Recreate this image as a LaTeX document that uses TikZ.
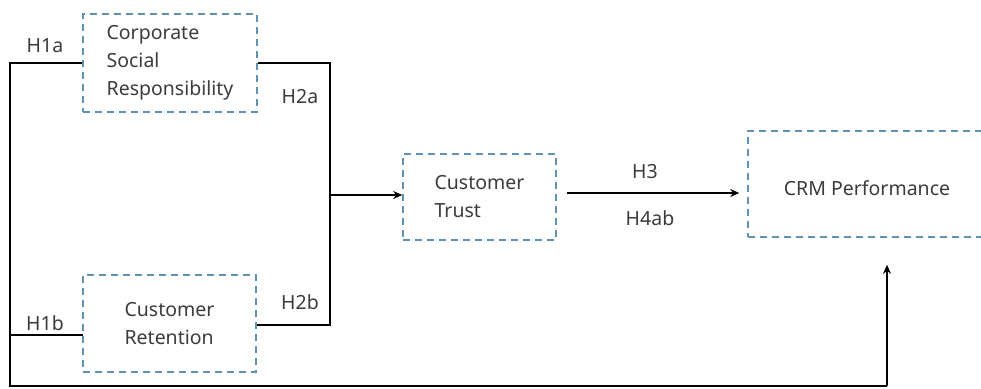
\documentclass[tikz,border=0pt]{standalone}
\usepackage{fontspec}
\setmainfont{Noto Sans}
\usetikzlibrary{arrows.meta}
\definecolor{boxblue}{RGB}{95,145,180}
\definecolor{txt}{RGB}{60,60,60}
\tikzset{
  dbox/.style={draw=boxblue, line width=1.6pt, dash pattern=on 7pt off 5pt, rectangle, align=left, text=txt, font=\fontsize{19.5}{28}\selectfont, inner sep=0pt},
  conn/.style={draw=black, line width=1.8pt},
  arr/.style={conn, -{Stealth[length=9pt,width=8pt]}},
  lab/.style={text=txt, font=\fontsize{19.5}{22}\selectfont, inner sep=0pt}
}
\begin{document}
\begin{tikzpicture}[x=1pt,y=-1pt]
\clip (0,0) rectangle (981,388);
\fill[white] (0,0) rectangle (981,388);
\node[dbox, minimum width=174pt, minimum height=98pt] (CSR) at (170,63) {Corporate\\Social\\Responsibility};
\node[dbox, minimum width=173pt, minimum height=97pt] (CR) at (169.5,323.5) {Customer\\Retention};
\node[dbox, minimum width=153pt, minimum height=86pt] (CT) at (479.5,197) {Customer\\Trust};
\node[dbox, minimum width=250pt, minimum height=106pt] (CRM) at (873,184) {};
\node[text=txt, font=\fontsize{19.5}{22}\selectfont] (CRMt) at (867,188) {CRM Performance};
\coordinate (BL) at (10,386);
\coordinate (BR) at (887,386);
\coordinate (J) at (330,325);
\coordinate (L2) at (83,335);
\draw[conn] (CSR.west) -| (BL) -- (BR);
\draw[conn] (L2) -- (L2 -| BL);
\draw[arr, shorten >=27pt] (BR) -- (BR |- CRM.south);
\draw[conn] (CSR.east) -| (J) -- (CR.east |- J);
\draw[arr] (J |- CT.west) ++(0,-2) coordinate (JT) -- (JT -| CT.west);
\draw[arr, shorten <=10pt, shorten >=8pt] (CT.east |- 0,193) coordinate (TE) -- (TE -| CRM.west);
\node[lab] (h1a) at (45,46) {H1a};
\node[lab] (h2a) at (300,97) {H2a};
\node[lab] (h1b) at (45,323) {H1b};
\node[lab] (h2b) at (300,302) {H2b};
\node[lab] (h3) at (645,172) {H3};
\node[lab] (h4) at (650,218) {H4ab};
\end{tikzpicture}
\end{document}
